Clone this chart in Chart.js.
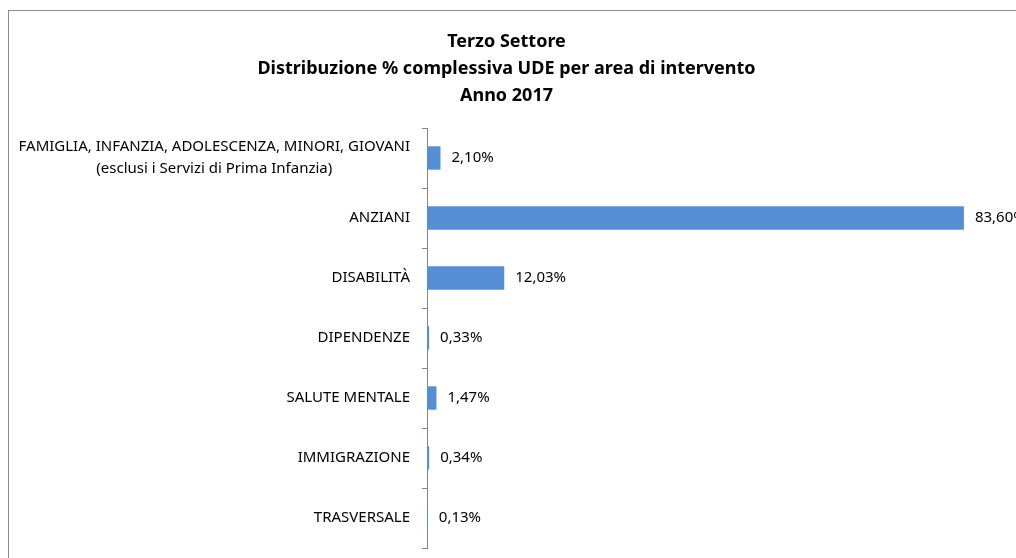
<!DOCTYPE html>
<html>
<head>
<meta charset="utf-8">
<script src="https://cdn.jsdelivr.net/npm/chart.js@4/dist/chart.umd.min.js"></script>
<style>
  html, body { margin: 0; padding: 0; background: #fff; }
  #wrap { width: 1016px; height: 558px; }
</style>
</head>
<body>
<div id="wrap"><canvas id="graph1" width="1016" height="558"></canvas></div>
<script>
var categories = [
  ['FAMIGLIA, INFANZIA, ADOLESCENZA, MINORI, GIOVANI', '(esclusi i Servizi di Prima Infanzia)'],
  'ANZIANI',
  'DISABILITÀ',
  'DIPENDENZE',
  'SALUTE MENTALE',
  'IMMIGRAZIONE',
  'TRASVERSALE'
];
var values = [2.10, 83.60, 12.03, 0.33, 1.47, 0.34, 0.13];
var titleLines = ['Terzo Settore', 'Distribuzione % complessiva UDE per area di intervento', 'Anno 2017'];

var labelFont = '15px "Noto Sans"';

function fmt(v) {
  return v.toFixed(2).replace('.', ',') + '%';
}

// cornice grigia del grafico
var frame = {
  id: 'frame',
  beforeDraw: function(chart) {
    var c = chart.ctx;
    c.save();
    c.strokeStyle = '#8c8c8c';
    c.lineWidth = 1;
    c.strokeRect(8.5, 10.5, 1200, 800);
    c.restore();
  }
};

// etichette categorie (righe centrate tra loro, blocco allineato a destra)
var catLabels = {
  id: 'catLabels',
  afterDraw: function(chart) {
    var c = chart.ctx;
    var y = chart.scales.y;
    var right = chart.chartArea.left - 17;
    c.save();
    c.font = labelFont;
    c.fillStyle = '#000';
    c.textBaseline = 'middle';
    c.textAlign = 'center';
    categories.forEach(function(lab, i) {
      var lines = Array.isArray(lab) ? lab : [lab];
      var w = 0;
      lines.forEach(function(l) { w = Math.max(w, c.measureText(l).width); });
      var cx = right - w / 2;
      var yc = y.getPixelForValue(i);
      var lh = 22;
      var y0 = yc - (lines.length - 1) * lh / 2;
      lines.forEach(function(l, k) { c.fillText(l, cx, y0 + k * lh); });
    });
    c.restore();
  }
};

// valori a destra delle barre
var valLabels = {
  id: 'valLabels',
  afterDatasetsDraw: function(chart) {
    var c = chart.ctx;
    var meta = chart.getDatasetMeta(0);
    c.save();
    c.font = labelFont;
    c.fillStyle = '#000';
    c.textBaseline = 'middle';
    c.textAlign = 'left';
    meta.data.forEach(function(bar, i) {
      c.fillText(fmt(values[i]), bar.x + 11, bar.y);
    });
    c.restore();
  }
};

document.addEventListener('DOMContentLoaded', function() {
  var ctx = document.querySelector('#graph1').getContext('2d');
  var chart = new Chart(ctx, {
    type: 'bar',
    data: {
      labels: categories,
      datasets: [{
        data: values,
        backgroundColor: '#558ED5',
        borderWidth: 0,
        categoryPercentage: 1,
        barPercentage: 0.39
      }]
    },
    options: {
      indexAxis: 'y',
      responsive: false,
      animation: false,
      layout: { padding: { left: 8, right: 11, top: 0, bottom: 10 } },
      plugins: {
        legend: { display: false },
        tooltip: { enabled: false },
        title: {
          display: true,
          text: titleLines,
          color: '#000',
          font: { family: '"Noto Sans"', size: 18, weight: 'bold', lineHeight: 1.5 },
          padding: { top: 28, bottom: 19 }
        }
      },
      scales: {
        x: { display: false, min: 0, max: 90 },
        y: {
          afterFit: function(scale) { scale.width = 419; },
          ticks: { display: false },
          grid: { offset: true, drawOnChartArea: false, tickLength: 5, color: '#868686' },
          border: { display: true, color: '#868686' }
        }
      }
    },
    plugins: [frame, catLabels, valLabels]
  });
});
</script>
</body>
</html>
